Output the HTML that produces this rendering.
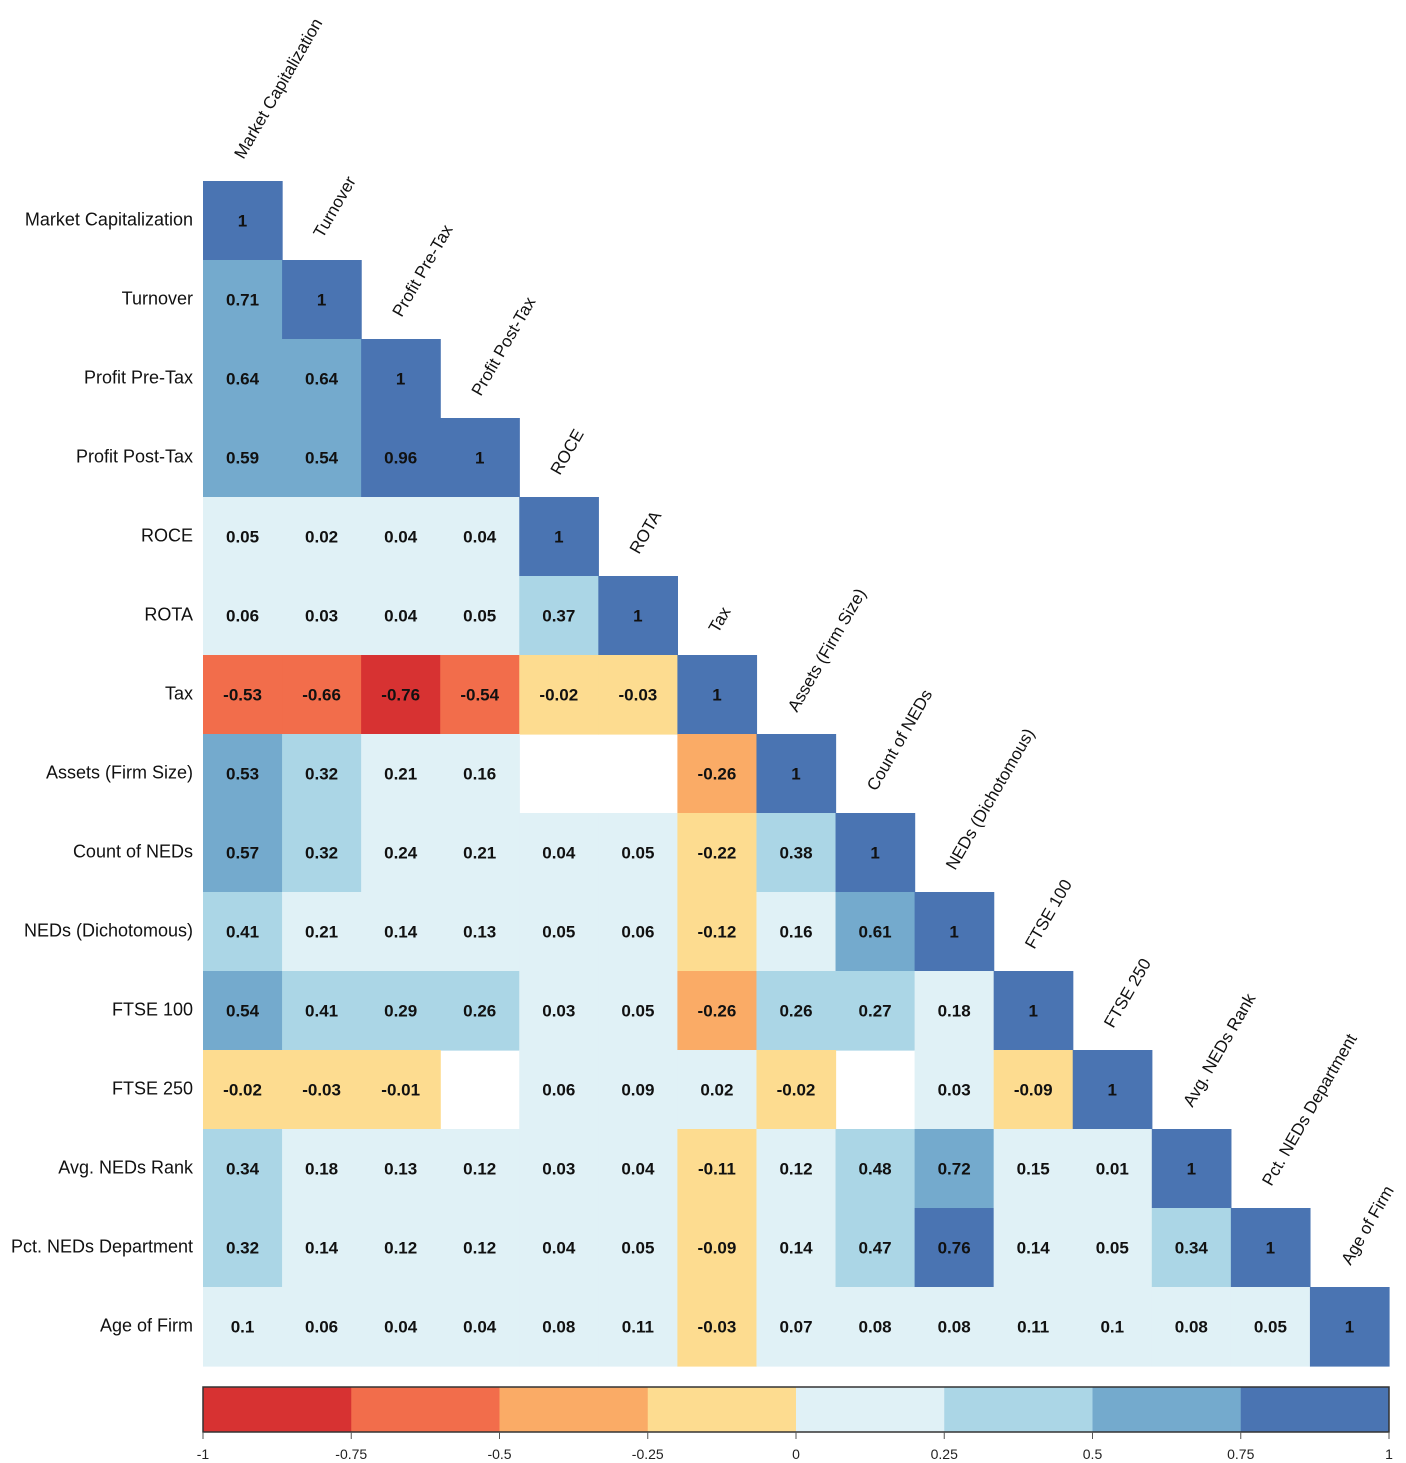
<!DOCTYPE html>
<html><head><meta charset="utf-8"><style>
html,body{margin:0;padding:0;background:#fff;}
svg{display:block;font-family:"Liberation Sans",sans-serif;}
</style></head><body>
<svg id="chart" width="1406" height="1463" viewBox="0 0 1406 1463"></svg>
<script>
const labels=["Market Capitalization","Turnover","Profit Pre-Tax","Profit Post-Tax","ROCE","ROTA","Tax","Assets (Firm Size)","Count of NEDs","NEDs (Dichotomous)","FTSE 100","FTSE 250","Avg. NEDs Rank","Pct. NEDs Department","Age of Firm"];
const row0=[1];
const row1=[0.71,1];
const row2=[0.64,0.64,1];
const row3=[0.59,0.54,0.96,1];
const row4=[0.05,0.02,0.04,0.04,1];
const row5=[0.06,0.03,0.04,0.05,0.37,1];
const row6=[-0.53,-0.66,-0.76,-0.54,-0.02,-0.03,1];
const row7=[0.53,0.32,0.21,0.16,null,null,-0.26,1];
const row8=[0.57,0.32,0.24,0.21,0.04,0.05,-0.22,0.38,1];
const row9=[0.41,0.21,0.14,0.13,0.05,0.06,-0.12,0.16,0.61,1];
const row10=[0.54,0.41,0.29,0.26,0.03,0.05,-0.26,0.26,0.27,0.18,1];
const row11=[-0.02,-0.03,-0.01,null,0.06,0.09,0.02,-0.02,null,0.03,-0.09,1];
const row12=[0.34,0.18,0.13,0.12,0.03,0.04,-0.11,0.12,0.48,0.72,0.15,0.01,1];
const row13=[0.32,0.14,0.12,0.12,0.04,0.05,-0.09,0.14,0.47,0.76,0.14,0.05,0.34,1];
const row14=[0.1,0.06,0.04,0.04,0.08,0.11,-0.03,0.07,0.08,0.08,0.11,0.1,0.08,0.05,1];
const rows=[row0,row1,row2,row3,row4,row5,row6,row7,row8,row9,row10,row11,row12,row13,row14];
const binColors=["#D73232","#F26D4B","#FAAB66","#FDDC90","#E0F1F6","#ABD6E6","#74AACD","#4A74B2"];
const tickLabels=["-1","-0.75","-0.5","-0.25","0","0.25","0.5","0.75","1"];

const NS="http://www.w3.org/2000/svg";
const svg=document.getElementById('chart');
const X0=203,X1=1389,Y0=181,Y1=1366,N=labels.length;
const cw=(X1-X0)/N,ch=(Y1-Y0)/N;
const xs=i=>X0+i*cw, ys=i=>Y0+i*ch;
function colorOf(v){let b=Math.floor((v+1)/0.25);if(b>7)b=7;if(b<0)b=0;return binColors[b];}
function mk(tag,attrs){const e=document.createElementNS(NS,tag);for(const k in attrs)e.setAttribute(k,attrs[k]);svg.appendChild(e);return e;}

rows.forEach((r,i)=>{r.forEach((v,j)=>{
  if(v===null)return;
  const c=mk('rect',{x:xs(j),y:ys(i),width:cw+0.6,height:ch+0.6,fill:colorOf(v)});
  
  
});});
rows.forEach((r,i)=>{r.forEach((v,j)=>{
  if(v===null)return;
  const t=mk('text',{x:xs(j)+cw/2,y:ys(i)+ch/2+6,'text-anchor':'middle','font-size':17,'font-weight':'bold',fill:'#111'});
  t.textContent=String(v);
  
  
});});
labels.forEach((l,i)=>{
  const t=mk('text',{x:193,y:ys(i)+ch/2+5,'text-anchor':'end','font-size':18,fill:'#111'});
  t.textContent=l;
  
  
  const cx=xs(i)+cw/2+1, cy=ys(i)-21;
  const u=mk('text',{x:cx,y:cy,'font-size':17,fill:'#111',transform:`rotate(-60 ${cx} ${cy})`});
  u.textContent=l;
  
  
});
const CB0=1387,CB1=1432,bw=(X1-X0)/8;
binColors.forEach((c,k)=>{
  const r=mk('rect',{x:X0+k*bw,y:CB0,width:bw+0.5,height:CB1-CB0,fill:c});
  
  
});
const fr=mk('rect',{x:X0,y:CB0,width:X1-X0,height:CB1-CB0,fill:'none',stroke:'#333','stroke-width':1.5});


tickLabels.forEach((s,k)=>{
  const x=X0+k*bw;
  const l=mk('line',{x1:x,x2:x,y1:CB1,y2:CB1+7,stroke:'#555','stroke-width':1});
  
  
  const t=mk('text',{x:x,y:1459,'text-anchor':'middle','font-size':14,fill:'#222'});
  t.textContent=s;
  
  
});
</script>
</body></html>
